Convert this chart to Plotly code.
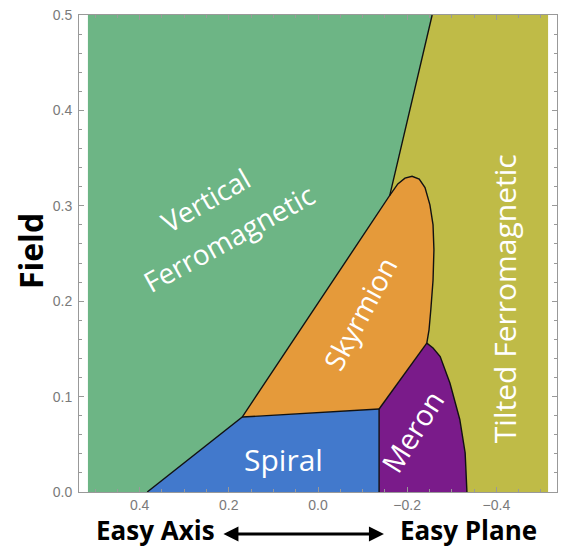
import plotly.graph_objects as go

# ---- data (anisotropy, field) ----
x_left_edge, x_right_edge = 0.516, -0.516
y_top_edge = 0.5

# junction points
A = (0.383, 0.0)      # VFM / Spiral at zero field
B = (0.170, 0.0786)   # VFM / Spiral / Skyrmion
C = (-0.137, 0.087)   # Spiral / Skyrmion / Meron
D = (-0.161, 0.311)   # VFM / Skyrmion / TFM
E = (-0.256, 0.5)     # VFM / TFM at top edge
F = (-0.244, 0.156)   # Skyrmion / Meron / TFM
G = (-0.334, 0.0)     # Meron / TFM at zero field
H = (-0.137, 0.0)     # Spiral / Meron at zero field

# skyrmion pocket boundary facing TFM, from D to F
sky_x = [-0.179, -0.195, -0.211, -0.227, -0.240, -0.251, -0.258, -0.260, -0.258, -0.253, -0.249]
sky_y = [0.323, 0.329, 0.331, 0.328, 0.319, 0.301, 0.280, 0.254, 0.222, 0.191, 0.170]

# meron boundary facing TFM, from F to G
mer_x = [-0.258, -0.274, -0.296, -0.318, -0.330]
mer_y = [0.151, 0.142, 0.114, 0.076, 0.041]

x_ticks = [0.4, 0.2, 0.0, -0.2, -0.4]
y_ticks = [0.0, 0.1, 0.2, 0.3, 0.4, 0.5]

colors = {
    "vfm": "#6db585",
    "tfm": "#bfbb47",
    "sky": "#e59a3a",
    "spiral": "#4279cc",
    "meron": "#7a1b8a",
}


def xs(*pts):
    return [p[0] for p in pts]


def ys(*pts):
    return [p[1] for p in pts]


fig = go.Figure()


def region(xv, yv, color):
    fig.add_trace(go.Scatter(x=xv, y=yv, mode="lines", fill="toself",
                             fillcolor=color, line=dict(width=0, color=color),
                             hoverinfo="skip", showlegend=False))


TL = (x_left_edge, y_top_edge)
TR = (x_right_edge, y_top_edge)
BL = (x_left_edge, 0.0)
BR = (x_right_edge, 0.0)

# Vertical ferromagnetic
region(xs(BL, A, B, D, E, TL), ys(BL, A, B, D, E, TL), colors["vfm"])
# Tilted ferromagnetic
tfm_x = xs(E, TR, BR, G) + mer_x[::-1] + [F[0]] + sky_x[::-1] + [D[0]]
tfm_y = ys(E, TR, BR, G) + mer_y[::-1] + [F[1]] + sky_y[::-1] + [D[1]]
region(tfm_x, tfm_y, colors["tfm"])
# Spiral
region(xs(A, H, C, B), ys(A, H, C, B), colors["spiral"])
# Skyrmion
sk_x = xs(B, D) + sky_x + xs(F, C)
sk_y = ys(B, D) + sky_y + ys(F, C)
region(sk_x, sk_y, colors["sky"])
# Meron
m_x = xs(H, C, F) + mer_x + [G[0]]
m_y = ys(H, C, F) + mer_y + [G[1]]
region(m_x, m_y, colors["meron"])


def boundary(xv, yv):
    fig.add_trace(go.Scatter(x=xv, y=yv, mode="lines",
                             line=dict(width=1.4, color="#111111"),
                             hoverinfo="skip", showlegend=False))


boundary(xs(A, B, D, E), ys(A, B, D, E))
boundary(xs(B, C), ys(B, C))
boundary(xs(C, H), ys(C, H))
boundary(xs(C, F), ys(C, F))
boundary([D[0]] + sky_x + [F[0]], [D[1]] + sky_y + [F[1]])
boundary([F[0]] + mer_x + [G[0]], [F[1]] + mer_y + [G[1]])

# ---- labels ----
labels = [
    ("Vertical", 0.253, 0.306, -30, 28),
    ("Ferromagnetic", 0.200, 0.266, -29, 28),
    ("Skyrmion", -0.094, 0.188, -62, 28),
    ("Meron", -0.211, 0.063, -58, 29),
    ("Spiral", 0.078, 0.034, 0, 30),
    ("Tilted Ferromagnetic", -0.419, 0.203, -90, 30),
]
for text, lx, ly, ang, fs in labels:
    fig.add_annotation(x=lx, y=ly, xref="x", yref="y", text=text,
                       showarrow=False, textangle=ang,
                       font=dict(family="Open Sans", size=fs, color="white"),
                       xanchor="center", yanchor="middle")

fig.add_annotation(x=-0.1025, y=0.505, xref="paper", yref="paper", text="<b>Field</b>",
                   showarrow=False, textangle=-90,
                   font=dict(family="Open Sans", size=32, color="black"),
                   xanchor="center", yanchor="middle")
fig.add_annotation(x=0.159, y=-0.0797, xref="paper", yref="paper", text="<b>Easy Axis</b>",
                   showarrow=False, font=dict(family="Open Sans", size=26, color="black"),
                   xanchor="center", yanchor="middle")
fig.add_annotation(x=0.815, y=-0.0797, xref="paper", yref="paper", text="<b>Easy Plane</b>",
                   showarrow=False, font=dict(family="Open Sans", size=26, color="black"),
                   xanchor="center", yanchor="middle")
fig.add_annotation(x=0.638, y=-0.088, xref="paper", yref="paper", text="",
                   showarrow=True, axref="pixel", ayref="pixel", ax=-162, ay=0,
                   arrowhead=2, arrowside="end+start", arrowsize=1, arrowwidth=3,
                   arrowcolor="black", standoff=0, startstandoff=0)

axis_common = dict(showline=True, linecolor="#999999", linewidth=1, mirror="ticks",
                   ticks="inside", ticklen=5, tickcolor="#999999", tickwidth=1,
                   showgrid=False, zeroline=False, tickformat=".1f",
                   tickfont=dict(family="Liberation Sans", size=14, color="#7a7a7a"))

fig.update_xaxes(range=[0.536, -0.536], tickvals=x_ticks,
                 minor=dict(ticks="inside", ticklen=3, dtick=0.05, tickcolor="#999999"),
                 **axis_common)
fig.update_yaxes(range=[0, 0.5], tickvals=y_ticks, ticklabelstandoff=3,
                 minor=dict(ticks="inside", ticklen=3, dtick=0.02, tickcolor="#999999"),
                 **axis_common)

fig.update_layout(width=562, height=548, margin=dict(l=79, r=5, t=15, b=56),
                  plot_bgcolor="white", paper_bgcolor="white", showlegend=False)

fig.write_html("out.html", config={"displayModeBar": False},
               post_script="document.body.style.margin='0';document.body.style.padding='0';")
